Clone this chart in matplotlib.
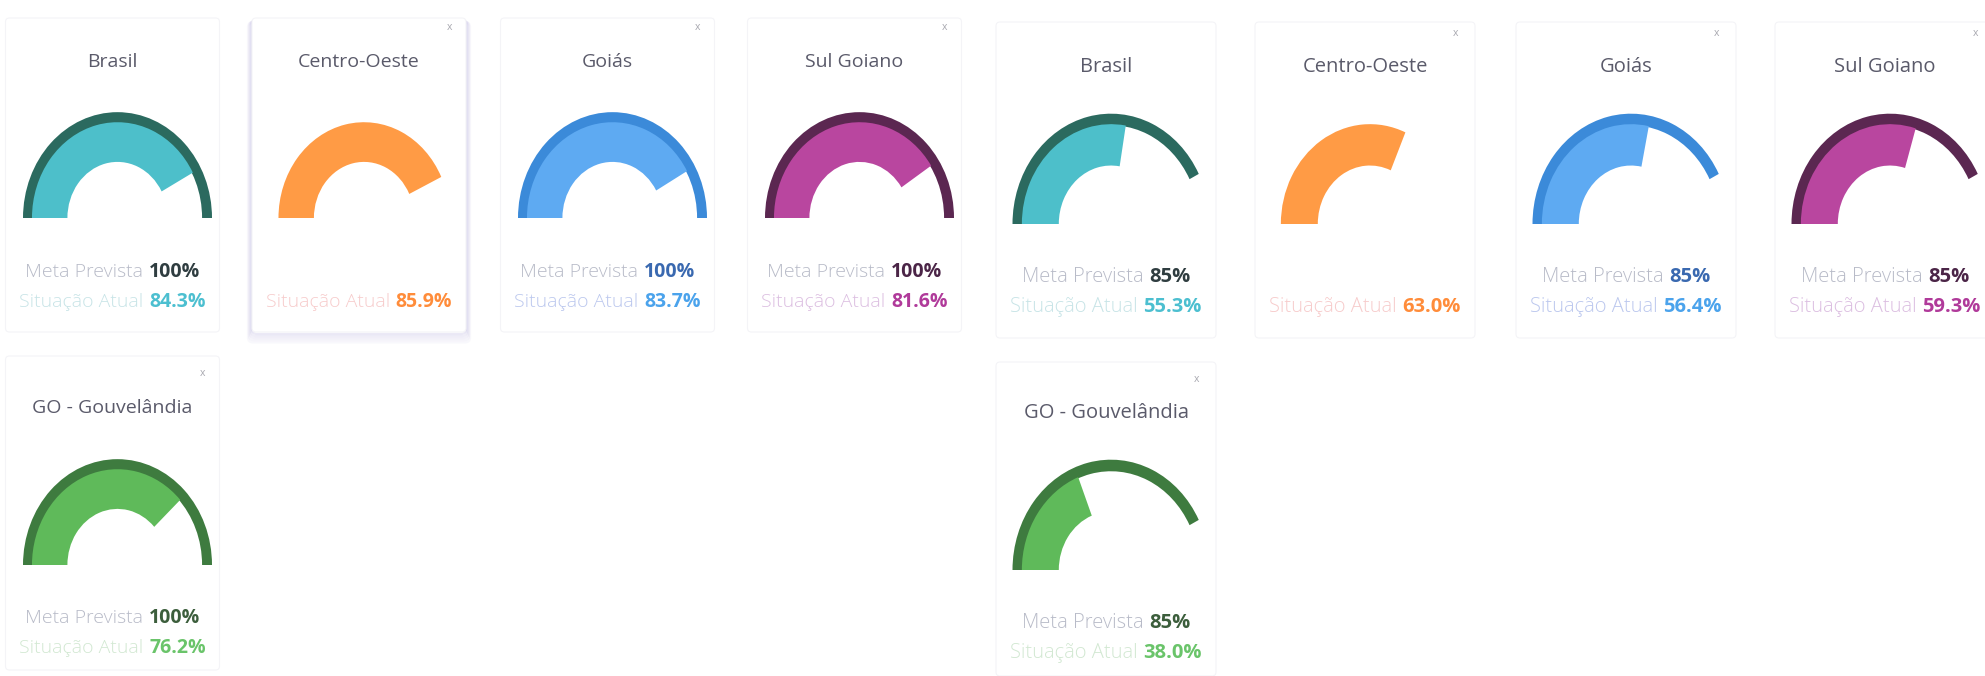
import matplotlib
matplotlib.use("Agg")
import matplotlib.pyplot as plt
from matplotlib.patches import Wedge, FancyBboxPatch
from matplotlib.transforms import Affine2D
from matplotlib.offsetbox import TextArea, HPacker, AnnotationBbox

plt.rcParams['font.family'] = ['Open Sans', 'DejaVu Sans']

# ---------------- data ----------------
regions = ["Brasil", "Centro-Oeste", "Goiás", "Sul Goiano", "GO - Gouvelândia"]
meta_left = [100, None, 100, 100, 100]
atual_left = [84.3, 85.9, 83.7, 81.6, 76.2]
meta_right = [85, None, 85, 85, 85]
atual_right = [55.3, 63.0, 56.4, 59.3, 38.0]
label_meta = "Meta Prevista"
label_atual = "Situação Atual"

# ---------------- styles ----------------
ring_col = ["#2b6a5f", None, "#3b8ad9", "#5b2751", "#3e7b3f"]
fill_col = ["#4dbfca", "#ff9b45", "#5eaaf2", "#b9469f", "#5fba5a"]
meta_val_col = ["#2f3d40", None, "#3a69b0", "#4b2547", "#3c5e3c"]
atual_val_col = ["#4cbfd0", "#ff8c3a", "#4ba3ec", "#b03a9a", "#6ac46a"]
atual_lab_col = ["#c8e4e7", "#f7cccc", "#bcc8ee", "#dcbfe1", "#d2e8d2"]
meta_lab_col = "#b8bbc8"
title_col = "#5a5a6a"

W, H = 1985, 676
fig = plt.figure(figsize=(W / 100, H / 100), dpi=100)
ax = fig.add_axes([0, 0, 1, 1])
ax.set_xlim(0, W)
ax.set_ylim(H, 0)
ax.axis("off")

panels = [
    dict(cols=[117.5, 364, 612.5, 859.5], R=94.5, half=107, fs=14.0, tfs=14.0,
         rows=[dict(title=62, base=218, meta=272, atual=302, xm=28, top=18, bot=332),
               dict(title=408, base=565, meta=618, atual=648, xm=373, top=356, bot=670)],
         meta=meta_left, atual=atual_left, shadow=1),
    dict(cols=[1111, 1370, 1631, 1890], R=98.5, half=110, fs=14.5, tfs=14.5,
         rows=[dict(title=67, base=224, meta=277, atual=307, xm=33, top=22, bot=338),
               dict(title=413, base=570, meta=623, atual=653, xm=380, top=362, bot=676)],
         meta=meta_right, atual=atual_right, shadow=None),
]
SY = 1.12


def two_part(x, y, lab, labc, val, valc, fs):
    a = TextArea(lab, textprops=dict(color=labc, fontsize=fs, fontweight="light"))
    b = TextArea(val, textprops=dict(color=valc, fontsize=fs, fontweight="bold"))
    box = HPacker(children=[a, b], align="baseline", pad=0, sep=4)
    ab = AnnotationBbox(box, (x, y), xycoords="data", frameon=False,
                        box_alignment=(0.5, 0.5), pad=0)
    ax.add_artist(ab)


for p in panels:
    for i, name in enumerate(regions):
        if i < 4:
            col, row = i, p["rows"][0]
        else:
            col, row = 0, p["rows"][1]
        cx = p["cols"][col]
        tx = cx - 5
        R = p["R"]
        # card
        if p["shadow"] == i:
            for k in range(5):
                ax.add_patch(FancyBboxPatch((tx - p["half"] - k, row["top"] + 2 + k * 0.5),
                                            2 * p["half"] + 2 * k, row["bot"] - row["top"] + k * 1.6,
                                            boxstyle="round,pad=0,rounding_size=5",
                                            fc="none", ec="#c8c2e6", lw=1.6,
                                            alpha=0.35 - k * 0.06, zorder=0))
        ax.add_patch(FancyBboxPatch((tx - p["half"], row["top"]), 2 * p["half"],
                                    row["bot"] - row["top"],
                                    boxstyle="round,pad=0,rounding_size=4",
                                    fc="white", ec="#f4f4f7", lw=0.8, zorder=1))
        # close mark
        if i != 0:
            ax.text(cx + 85, row["xm"], "x", fontsize=7.5, color="#a8a8b0",
                    ha="center", va="center", zorder=3)
        # title
        ax.text(tx, row["title"], name, fontsize=p["tfs"], color=title_col,
                ha="center", va="center", zorder=3)
        # gauge
        tr = Affine2D().scale(1, -SY).translate(cx, row["base"]) + ax.transData
        m = p["meta"][i]
        v = p["atual"][i]
        if m is not None:
            ax.add_patch(Wedge((0, 0), R, 180 - 180 * m / 100, 180, width=0.105 * R,
                               fc=ring_col[i], ec="none", transform=tr, zorder=2))
        ax.add_patch(Wedge((0, 0), 0.905 * R, 180 - 180 * v / 100, 180, width=0.375 * R,
                           fc=fill_col[i], ec="none", transform=tr, zorder=2.5))
        # texts
        if m is not None:
            two_part(tx, row["meta"], label_meta, meta_lab_col, f"{m}%", meta_val_col[i], p["fs"])
        two_part(tx, row["atual"], label_atual, atual_lab_col[i], f"{v:.1f}%",
                 atual_val_col[i], p["fs"])

fig.savefig("out.png", dpi=100, facecolor="white")
